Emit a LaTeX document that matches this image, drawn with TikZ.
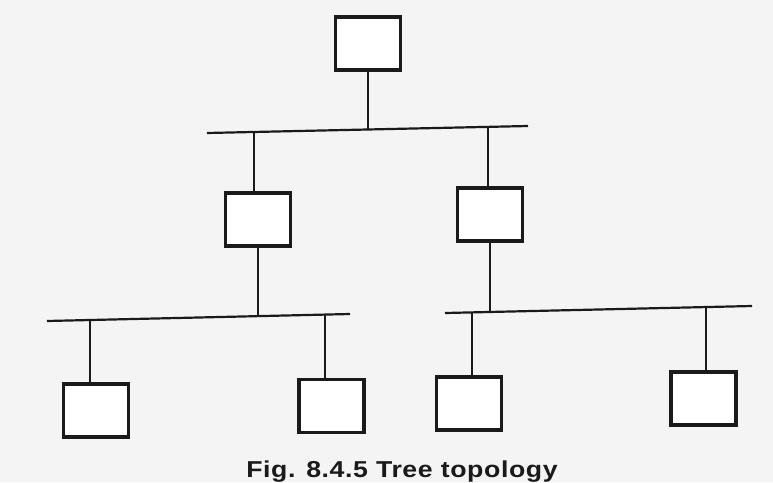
\documentclass[tikz,border=0pt]{standalone}
\usepackage{fontspec}
\setmainfont{Liberation Sans}
\definecolor{paper}{HTML}{F4F4F4}
\definecolor{ink}{HTML}{1A1A1A}
\begin{document}
\begin{tikzpicture}[x=1pt,y=-1pt,
  station/.style={draw=ink,line width=3.2pt,fill=white,inner sep=0pt,minimum width=65pt,minimum height=53pt},
  wire/.style={draw=ink,line width=2pt},
  bus/.style={draw=ink,line width=2.2pt}]
\fill[paper] (0,0) rectangle (773,482);
\useasboundingbox (0,0) rectangle (773,482);
% stations
\node[station] (top) at (368,43.5) {};
\node[station] (ml) at (258,219.5) {};
\node[station] (mr) at (490,214.5) {};
\node[station] (l1) at (96,410.5) {};
\node[station] (l2) at (331.5,406) {};
\node[station] (r1) at (469,403.5) {};
\node[station] (r2) at (703.5,398.5) {};
% bus end points
\coordinate (b1a) at (207,133); \coordinate (b1b) at (528,126);
\coordinate (b2a) at (47,321);  \coordinate (b2b) at (350,314);
\coordinate (b3a) at (445,313); \coordinate (b3b) at (752,306);
% junctions
\coordinate (j0) at (368,129.5);
\coordinate (j1) at (254,132);
\coordinate (j2) at (488,127);
\coordinate (j3) at (258,316);
\coordinate (j4) at (90,320);
\coordinate (j5) at (325,314.6);
\coordinate (j6) at (490,312);
\coordinate (j7) at (472,312.4);
\coordinate (j8) at (706,307);
\draw[bus] (b1a) -- (b1b);
\draw[bus] (b2a) -- (b2b);
\draw[bus] (b3a) -- (b3b);
\draw[wire] (top.south) -- (j0);
\draw[wire] (j1) -- (j1 |- ml.north);
\draw[wire] (j2) -- (j2 |- mr.north);
\draw[wire] (ml.south) -- (j3);
\draw[wire] (mr.south) -- (j6);
\draw[wire] (j4) -- (j4 |- l1.north);
\draw[wire] (j5) -- (j5 |- l2.north);
\draw[wire] (j7) -- (j7 |- r1.north);
\draw[wire] (j8) -- (j8 |- r2.north);
\node[anchor=base,inner sep=0pt,text=ink] (cap) at (402,477)
  {\scalebox{1.16}[1]{\fontsize{23}{27}\selectfont\bfseries\addfontfeature{LetterSpace=2.3}Fig. 8.4.5 Tree topology}};
\end{tikzpicture}
\end{document}
